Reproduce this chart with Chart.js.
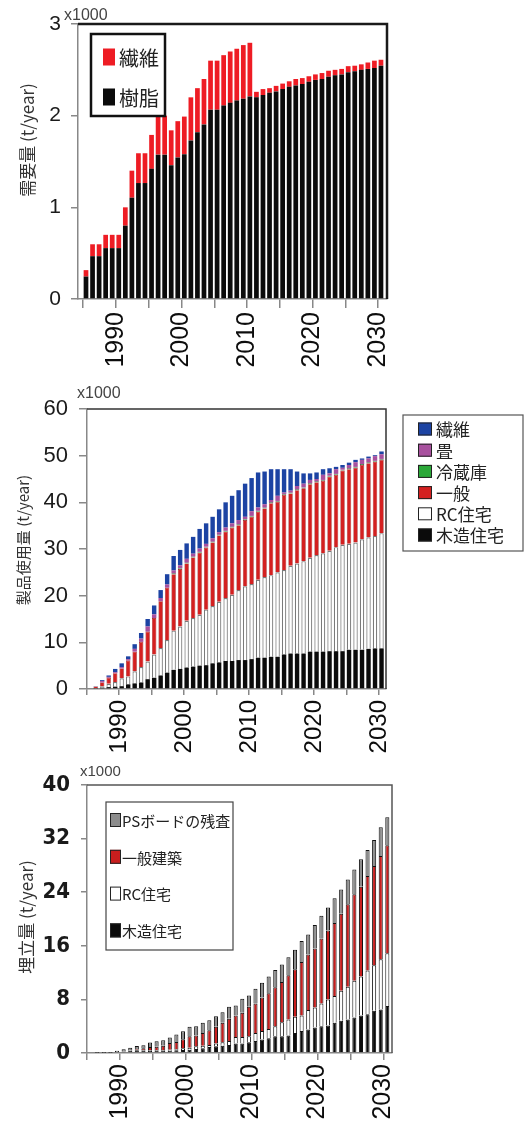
<!DOCTYPE html>
<html>
<head>
<meta charset="utf-8">
<script src="https://cdn.jsdelivr.net/npm/chart.js@4"></script>
<style>
  html, body { margin: 0; padding: 0; background: #fff; }
  canvas { position: absolute; left: 0; }
</style>
</head>
<body>
<canvas id="cDemand" width="526" height="380" style="top:0"></canvas>
<canvas id="cUse" width="526" height="380" style="top:380px"></canvas>
<canvas id="cLandfill" width="526" height="361" style="top:760px"></canvas>
<script>
// years on the x axis
const years = [1985, 1986, 1987, 1988, 1989, 1990, 1991, 1992, 1993, 1994,
  1995, 1996, 1997, 1998, 1999, 2000, 2001, 2002, 2003, 2004,
  2005, 2006, 2007, 2008, 2009, 2010, 2011, 2012, 2013, 2014,
  2015, 2016, 2017, 2018, 2019, 2020, 2021, 2022, 2023, 2024,
  2025, 2026, 2027, 2028, 2029, 2030];
const xTickYears = [1985, 1990, 1995, 2000, 2005, 2010, 2015, 2020, 2025, 2030];

// chart 1: 需要量 (x1000 t/year)
const demandResin = [0.245, 0.467, 0.467, 0.555, 0.555, 0.555, 0.80, 1.105, 1.265, 1.265,
  1.42, 1.575, 1.575, 1.46, 1.545, 1.58, 1.73, 1.82, 1.905, 2.065,
  2.065, 2.11, 2.14, 2.165, 2.185, 2.21, 2.20, 2.225, 2.25, 2.265,
  2.29, 2.315, 2.33, 2.345, 2.37, 2.39, 2.40, 2.425, 2.44, 2.45,
  2.475, 2.485, 2.50, 2.51, 2.52, 2.545];
const demandFiber = [0.07, 0.13, 0.13, 0.145, 0.145, 0.145, 0.20, 0.295, 0.325, 0.325,
  0.37, 0.425, 0.425, 0.38, 0.395, 0.41, 0.47, 0.48, 0.495, 0.535,
  0.535, 0.55, 0.56, 0.565, 0.585, 0.585, 0.06, 0.065, 0.05, 0.06,
  0.06, 0.06, 0.07, 0.065, 0.06, 0.06, 0.065, 0.065, 0.06, 0.06,
  0.065, 0.06, 0.06, 0.07, 0.08, 0.065];

// chart 2: 製品使用量 (x1000 t/year)
const useWood = [0, 0.1, 0.3, 0.4, 0.5, 0.6, 1.0, 1.2, 1.4, 2.1,
  2.4, 2.9, 3.5, 4.1, 4.3, 4.6, 4.8, 5.0, 5.1, 5.5,
  5.7, 6.0, 6.0, 6.2, 6.2, 6.4, 6.7, 6.7, 6.9, 6.9,
  7.4, 7.6, 7.6, 7.6, 8.0, 8.0, 8.0, 8.1, 8.1, 8.1,
  8.4, 8.4, 8.4, 8.6, 8.7, 8.7];
const useRC = [0, 0.1, 0.3, 0.7, 1.0, 1.7, 1.7, 2.6, 3.3, 3.8,
  5.0, 5.9, 7.0, 8.4, 9.1, 10.0, 10.4, 10.9, 11.9, 12.3,
  13.0, 13.5, 14.2, 15.0, 15.8, 16.1, 16.7, 17.3, 17.5, 18.1,
  18.1, 18.8, 19.3, 19.8, 20.1, 20.7, 21.1, 21.5, 22.3, 22.8,
  22.7, 23.0, 23.7, 23.9, 24.1, 24.7];
const useGeneral = [0, 0.35, 0.8, 1.3, 1.9, 2.1, 3.4, 4.2, 5.4, 6.4,
  7.8, 10.0, 11.2, 12.1, 12.3, 12.3, 13.0, 13.3, 13.3, 13.6,
  14.2, 14.2, 14.4, 13.9, 14.2, 14.4, 14.6, 14.7, 15.4, 15.1,
  16.1, 15.5, 15.7, 15.6, 15.8, 15.6, 15.5, 15.9, 15.5, 15.9,
  16.0, 16.0, 15.9, 15.9, 15.9, 15.7];
const useFridge = [0, 0, 0, 0, 0, 0, 0, 0, 0, 0,
  0, 0, 0, 0.2, 0.2, 0.2, 0.2, 0.2, 0.2, 0.2,
  0.2, 0.2, 0.2, 0.2, 0.2, 0.2, 0.2, 0.2, 0.2, 0.2,
  0.2, 0.2, 0.2, 0.2, 0.2, 0.2, 0.2, 0.2, 0.2, 0.2,
  0.2, 0.2, 0.2, 0.2, 0.2, 0.2];
const useTatami = [0, 0, 0.3, 0.2, 0.2, 0.3, 0.3, 0.6, 0.7, 1.1,
  0.8, 0.7, 0.7, 0.6, 0.6, 0.8, 0.6, 0.7, 0.6, 0.7,
  0.5, 0.7, 0.7, 0.9, 0.5, 1.0, 0.7, 0.7, 0.5, 1.1,
  0.3, 0.4, 0.7, 0.8, 0.7, 0.5, 1.1, 0.5, 1.0, 0.4,
  0.7, 1.0, 0.9, 0.8, 1.0, 1.0];
const useFiber = [0, 0.05, 0.2, 0.3, 0.7, 0.8, 0.6, 1.0, 1.2, 1.6,
  1.9, 1.7, 2.2, 3.1, 3.3, 3.3, 3.6, 4.2, 4.4, 4.6,
  4.9, 5.4, 5.9, 6.4, 7.1, 7.1, 7.5, 7.0, 6.6, 5.7,
  5.0, 4.6, 3.1, 2.2, 1.4, 1.4, 1.2, 1.1, 0.5, 0.6,
  0.5, 0.5, 0.3, 0.4, 0.2, 0.6];

// chart 3: 埋立量 (x1000 t/year)
const fillWood = [0, 0.05, 0.05, 0.05, 0.15, 0.2, 0.3, 0.4, 0.3, 0.3,
  0.3, 0.3, 0.35, 0.4, 0.45, 0.5, 0.6, 0.7, 0.9, 1.0,
  1.1, 1.2, 1.4, 1.4, 1.6, 1.8, 2.0, 2.2, 2.5, 2.5,
  2.6, 3.0, 3.3, 3.5, 3.8, 4.0, 4.1, 4.5, 4.8, 5.0,
  5.3, 5.6, 5.8, 6.3, 6.5, 7.0];
const fillRC = [0, 0, 0, 0, 0, 0, 0.05, 0.1, 0.1, 0.1,
  0.1, 0.1, 0.15, 0.15, 0.25, 0.3, 0.4, 0.4, 0.3, 0.4,
  0.5, 0.6, 1.0, 1.0, 0.9, 1.2, 1.3, 1.4, 1.5, 2.1,
  2.4, 2.4, 2.3, 2.9, 3.0, 3.4, 3.9, 4.0, 4.5, 4.9,
  5.5, 5.8, 6.5, 6.8, 7.5, 7.9];
const fillGeneral = [0, 0, 0, 0, 0, 0, 0, 0.1, 0.3, 0.5,
  0.55, 0.7, 1.0, 1.1, 1.35, 1.7, 1.6, 1.9, 2.2, 2.5,
  2.9, 3.3, 3.2, 3.6, 4.4, 4.4, 5.0, 5.3, 5.8, 6.0,
  6.6, 7.1, 8.0, 8.3, 8.8, 9.7, 10.3, 10.9, 11.5, 12.3,
  12.9, 13.4, 14.1, 14.8, 15.4, 16.1];
const fillPS = [0, 0.1, 0.1, 0.1, 0.2, 0.35, 0.45, 0.45, 0.45, 0.65,
  0.8, 0.8, 0.8, 1.1, 1.2, 1.4, 1.4, 1.5, 1.5, 1.6,
  1.6, 1.8, 1.5, 2.1, 1.7, 2.2, 2.2, 2.5, 2.6, 2.6,
  2.7, 2.9, 3.1, 3.0, 3.5, 3.4, 3.4, 3.7, 3.6, 3.7,
  3.7, 4.1, 3.9, 3.9, 4.3, 4.2];

const tickFont = '"Liberation Sans", Arial, sans-serif';
const jpFont = '"Noto Sans CJK JP", "Noto Sans", sans-serif';

// frame, multiplier, rotated y title and legend box
const decor = {
  id: 'decor',
  afterDraw(chart, args, o) {
    const ctx = chart.ctx, a = chart.chartArea;
    ctx.save();
    ctx.strokeStyle = o.frameColor;
    ctx.lineWidth = o.frameWidth;
    ctx.beginPath();
    ctx.moveTo(a.left, a.top);
    ctx.lineTo(a.right, a.top);
    ctx.lineTo(a.right, a.bottom);
    ctx.stroke();

    ctx.fillStyle = '#444';
    ctx.font = o.multFont;
    ctx.textAlign = 'left';
    ctx.textBaseline = 'alphabetic';
    ctx.fillText('x1000', o.multX, o.multY);

    ctx.save();
    ctx.translate(o.titleX, o.titleY);
    ctx.rotate(-Math.PI / 2);
    ctx.font = o.titleFont;
    ctx.textAlign = 'center';
    ctx.textBaseline = 'middle';
    ctx.fillStyle = '#333';
    ctx.fillText(o.title, 0, 0);
    ctx.restore();

    const lg = o.legend;
    ctx.fillStyle = '#fff';
    ctx.fillRect(lg.x, lg.y, lg.w, lg.h);
    ctx.strokeStyle = lg.color;
    ctx.lineWidth = lg.lw;
    ctx.strokeRect(lg.x, lg.y, lg.w, lg.h);
    const items = chart.data.datasets.slice().reverse();
    ctx.font = lg.font;
    ctx.textAlign = 'left';
    ctx.textBaseline = 'middle';
    items.forEach((ds, i) => {
      const cy = lg.rowY + i * lg.dy;
      ctx.fillStyle = ds.backgroundColor;
      ctx.fillRect(lg.sqX, cy - lg.sqH / 2, lg.sqW, lg.sqH);
      if (lg.sqBorder) {
        ctx.strokeStyle = '#222';
        ctx.lineWidth = 1;
        ctx.strokeRect(lg.sqX + 0.5, cy - lg.sqH / 2 + 0.5, lg.sqW - 1, lg.sqH - 1);
      }
      ctx.fillStyle = '#222';
      ctx.fillText(ds.label, lg.textX, cy + 1);
    });
    ctx.restore();
  }
};

function makeChart(id, p) {
  const canvas = document.getElementById(id);
  const H = canvas.height, W = canvas.width;
  return new Chart(canvas, {
    type: 'bar',
    data: { labels: years, datasets: p.datasets },
    plugins: [decor],
    options: {
      responsive: false,
      animation: false,
      layout: { padding: { top: p.area.top, right: W - p.area.right, left: 0, bottom: 0 } },
      datasets: { bar: { barPercentage: p.barPct, categoryPercentage: 1 } },
      plugins: {
        legend: { display: false },
        tooltip: { enabled: false },
        decor: p.decor
      },
      scales: {
        x: {
          type: 'linear',
          stacked: true,
          offset: false,
          min: p.xMin,
          max: p.xMax,
          afterBuildTicks: s => { s.ticks = xTickYears.map(v => ({ value: v - p.tickShift })); },
          afterFit: s => { s.height = H - p.area.bottom; },
          grid: { offset: false, drawOnChartArea: false, drawTicks: true, tickLength: p.xTickLen, color: '#888', lineWidth: 1.5 },
          border: { display: true, color: '#888', width: 1.5 },
          ticks: {
            autoSkip: false,
            minRotation: 90,
            maxRotation: 90,
            padding: p.xPad,
            color: '#0d0d0d',
            font: { family: tickFont, size: p.xFont },
            callback: v => {
              const y = Math.round(v + p.tickShift);
              return y % 10 === 0 ? String(y) : '';
            }
          }
        },
        y: {
          stacked: true,
          min: 0,
          max: p.yMax,
          afterFit: s => { s.width = p.area.left; },
          grid: { drawOnChartArea: false, drawTicks: true, tickLength: p.yTickLen, color: '#888', lineWidth: 1.5 },
          border: { display: true, color: '#888', width: 1.5 },
          ticks: {
            stepSize: p.yStep,
            padding: p.yPad,
            color: '#1a1a1a',
            font: p.yFontObj
          }
        }
      }
    }
  });
}

makeChart('cDemand', {
  area: { left: 78, right: 387, top: 24, bottom: 299 },
  xMin: 1983.78, xMax: 2030.92, tickShift: 0.43,
  barPct: 0.72, xTickLen: 9, xPad: 4, xFont: 25,
  yMax: 3, yStep: 1, yTickLen: 7, yPad: 10,
  yFontObj: { family: tickFont, size: 21 },
  datasets: [
    { label: '樹脂', data: demandResin, backgroundColor: '#0b0b0b', borderWidth: 0 },
    { label: '繊維', data: demandFiber, backgroundColor: '#ee1c24', borderWidth: 0 }
  ],
  decor: {
    frameColor: '#1a1a1a', frameWidth: 2.5,
    multFont: '16px ' + tickFont, multX: 64, multY: 20,
    title: '需要量 (t/year)', titleX: 28, titleY: 140, titleFont: '17px ' + jpFont,
    legend: { x: 91, y: 34, w: 74, h: 82, lw: 2.5, color: '#111', rowY: 57, dy: 40,
      sqX: 103, sqW: 12, sqH: 17, sqBorder: false, textX: 119, font: '20px ' + jpFont }
  }
});

makeChart('cUse', {
  area: { left: 87, right: 386, top: 29, bottom: 309 },
  xMin: 1984.66, xMax: 2030.69, tickShift: 0.38,
  barPct: 0.68, xTickLen: 6, xPad: 5, xFont: 24,
  yMax: 60, yStep: 10, yTickLen: 8, yPad: 11,
  yFontObj: { family: tickFont, size: 22 },
  datasets: [
    { label: '木造住宅', data: useWood, backgroundColor: '#0b0b0b', borderWidth: 0 },
    { label: 'RC住宅', data: useRC, backgroundColor: '#ffffff', borderColor: '#7a7a7a', borderWidth: 1.2 },
    { label: '一般', data: useGeneral, backgroundColor: '#d42020', borderColor: '#8e1a1a', borderWidth: 0.6 },
    { label: '冷蔵庫', data: useFridge, backgroundColor: '#2aa838', borderColor: '#1f1f1f', borderWidth: 0.6 },
    { label: '畳', data: useTatami, backgroundColor: '#a8509e', borderWidth: 0 },
    { label: '繊維', data: useFiber, backgroundColor: '#1c43a3', borderWidth: 0 }
  ],
  decor: {
    frameColor: '#333', frameWidth: 1.5,
    multFont: '16px ' + tickFont, multX: 77, multY: 18,
    title: '製品使用量 (t/year)', titleX: 23, titleY: 160, titleFont: '15px ' + jpFont,
    legend: { x: 403, y: 35, w: 120, h: 136, lw: 1.2, color: '#555', rowY: 49, dy: 21.2,
      sqX: 418, sqW: 14, sqH: 13, sqBorder: true, textX: 436, font: '17px ' + jpFont }
  }
});

makeChart('cLandfill', {
  area: { left: 87, right: 392, top: 25, bottom: 293 },
  xMin: 1984.44, xMax: 2030.71, tickShift: 0.6,
  barPct: 0.62, xTickLen: 7, xPad: 4, xFont: 25,
  yMax: 40, yStep: 8, yTickLen: 6, yPad: 11,
  yFontObj: { family: '"Liberation Sans Narrow", "DejaVu Sans Condensed", ' + tickFont, size: 22, weight: 'bold' },
  datasets: [
    { label: '木造住宅', data: fillWood, backgroundColor: '#0b0b0b', borderColor: '#111', borderWidth: 1 },
    { label: 'RC住宅', data: fillRC, backgroundColor: '#ffffff', borderColor: '#111', borderWidth: 1 },
    { label: '一般建築', data: fillGeneral, backgroundColor: '#c81e1e', borderColor: '#111', borderWidth: 1 },
    { label: 'PSボードの残査', data: fillPS, backgroundColor: '#8c8c8c', borderColor: '#111', borderWidth: 1 }
  ],
  decor: {
    frameColor: '#555', frameWidth: 1.5,
    multFont: '15px ' + tickFont, multX: 80, multY: 16,
    title: '埋立量 (t/year)', titleX: 27, titleY: 157, titleFont: '17px ' + jpFont,
    legend: { x: 106, y: 42, w: 127, h: 148, lw: 1.2, color: '#444', rowY: 60, dy: 36.8,
      sqX: 110, sqW: 11, sqH: 14, sqBorder: true, textX: 122, font: '15px ' + jpFont }
  }
});
</script>
</body>
</html>
